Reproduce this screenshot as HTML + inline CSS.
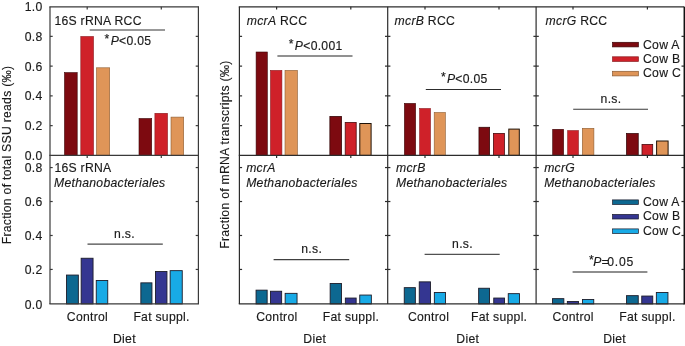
<!DOCTYPE html>
<html><head><meta charset="utf-8"><style>
html,body{margin:0;padding:0;background:#fff;}
body{width:685px;height:346px;overflow:hidden;}
svg{display:block;will-change:transform;}
text{font-family:"Liberation Sans",sans-serif;font-size:12.2px;fill:#1a1a1a;letter-spacing:0.28px;stroke:#1a1a1a;stroke-width:0.15px;}
</style></head><body>
<svg width="685" height="346" viewBox="0 0 685 346">
<rect width="685" height="346" fill="#fff"/>
<rect x="64.50" y="72.60" width="12.70" height="82.80" fill="#7d0a10" stroke="#3a0406" stroke-width="0.6"/>
<rect x="80.80" y="36.50" width="12.70" height="118.90" fill="#cf2129" stroke="#8a1a1e" stroke-width="0.6"/>
<rect x="96.50" y="67.80" width="13.20" height="87.60" fill="#df9558" stroke="#8a5a30" stroke-width="0.6"/>
<rect x="139.00" y="118.50" width="12.70" height="36.90" fill="#7d0a10" stroke="#3a0406" stroke-width="0.6"/>
<rect x="154.90" y="113.30" width="12.60" height="42.10" fill="#cf2129" stroke="#8a1a1e" stroke-width="0.6"/>
<rect x="171.00" y="117.10" width="12.70" height="38.30" fill="#df9558" stroke="#8a5a30" stroke-width="0.6"/>
<rect x="66.45" y="275.05" width="11.90" height="28.85" fill="#0d6891" stroke="#1c1c2a" stroke-width="0.9"/>
<rect x="81.15" y="258.25" width="11.90" height="45.65" fill="#343691" stroke="#1c1c2a" stroke-width="0.9"/>
<rect x="96.25" y="280.45" width="11.50" height="23.45" fill="#18aae6" stroke="#1c1c2a" stroke-width="0.9"/>
<rect x="140.85" y="282.85" width="11.10" height="21.05" fill="#0d6891" stroke="#1c1c2a" stroke-width="0.9"/>
<rect x="155.45" y="271.55" width="11.50" height="32.35" fill="#343691" stroke="#1c1c2a" stroke-width="0.9"/>
<rect x="170.15" y="270.65" width="12.10" height="33.25" fill="#18aae6" stroke="#1c1c2a" stroke-width="0.9"/>
<rect x="256.10" y="52.00" width="11.20" height="103.40" fill="#7d0a10" stroke="#3a0406" stroke-width="0.6"/>
<rect x="270.50" y="70.40" width="11.40" height="85.00" fill="#cf2129" stroke="#8a1a1e" stroke-width="0.6"/>
<rect x="285.00" y="70.40" width="12.40" height="85.00" fill="#df9558" stroke="#8a5a30" stroke-width="0.6"/>
<rect x="329.85" y="116.35" width="11.80" height="39.05" fill="#7d0a10" stroke="#2a0204" stroke-width="0.7"/>
<rect x="345.20" y="122.40" width="11.00" height="33.00" fill="#cf2129" stroke="#4a0c10" stroke-width="0.8"/>
<rect x="359.80" y="123.50" width="11.30" height="31.90" fill="#df9558" stroke="#1e1208" stroke-width="1.0"/>
<rect x="256.05" y="290.15" width="11.10" height="13.75" fill="#0d6891" stroke="#1c1c2a" stroke-width="0.9"/>
<rect x="270.45" y="291.25" width="11.20" height="12.65" fill="#343691" stroke="#1c1c2a" stroke-width="0.9"/>
<rect x="285.15" y="293.35" width="11.90" height="10.55" fill="#18aae6" stroke="#1c1c2a" stroke-width="0.9"/>
<rect x="330.15" y="283.55" width="11.30" height="20.35" fill="#0d6891" stroke="#1c1c2a" stroke-width="0.9"/>
<rect x="345.35" y="298.05" width="10.80" height="5.85" fill="#343691" stroke="#1c1c2a" stroke-width="0.9"/>
<rect x="359.75" y="295.05" width="11.60" height="8.85" fill="#18aae6" stroke="#1c1c2a" stroke-width="0.9"/>
<rect x="404.40" y="103.40" width="11.20" height="52.00" fill="#7d0a10" stroke="#3a0406" stroke-width="0.6"/>
<rect x="419.60" y="108.50" width="10.90" height="46.90" fill="#cf2129" stroke="#8a1a1e" stroke-width="0.6"/>
<rect x="434.20" y="112.50" width="11.10" height="42.90" fill="#df9558" stroke="#8a5a30" stroke-width="0.6"/>
<rect x="478.95" y="127.25" width="10.70" height="28.15" fill="#7d0a10" stroke="#2a0204" stroke-width="0.7"/>
<rect x="493.40" y="133.40" width="11.00" height="22.00" fill="#cf2129" stroke="#4a0c10" stroke-width="0.8"/>
<rect x="508.80" y="129.10" width="10.50" height="26.30" fill="#df9558" stroke="#1e1208" stroke-width="1.0"/>
<rect x="404.25" y="287.65" width="11.10" height="16.25" fill="#0d6891" stroke="#1c1c2a" stroke-width="0.9"/>
<rect x="419.25" y="281.85" width="11.20" height="22.05" fill="#343691" stroke="#1c1c2a" stroke-width="0.9"/>
<rect x="434.35" y="292.45" width="11.10" height="11.45" fill="#18aae6" stroke="#1c1c2a" stroke-width="0.9"/>
<rect x="478.65" y="288.25" width="10.90" height="15.65" fill="#0d6891" stroke="#1c1c2a" stroke-width="0.9"/>
<rect x="493.75" y="298.05" width="10.80" height="5.85" fill="#343691" stroke="#1c1c2a" stroke-width="0.9"/>
<rect x="508.25" y="293.65" width="11.20" height="10.25" fill="#18aae6" stroke="#1c1c2a" stroke-width="0.9"/>
<rect x="552.70" y="129.30" width="10.90" height="26.10" fill="#7d0a10" stroke="#3a0406" stroke-width="0.6"/>
<rect x="567.70" y="130.60" width="10.70" height="24.80" fill="#cf2129" stroke="#8a1a1e" stroke-width="0.6"/>
<rect x="582.30" y="128.30" width="11.60" height="27.10" fill="#df9558" stroke="#8a5a30" stroke-width="0.6"/>
<rect x="626.45" y="133.45" width="11.80" height="21.95" fill="#7d0a10" stroke="#2a0204" stroke-width="0.7"/>
<rect x="642.00" y="144.40" width="10.70" height="11.00" fill="#cf2129" stroke="#4a0c10" stroke-width="0.8"/>
<rect x="656.60" y="141.00" width="11.50" height="14.40" fill="#df9558" stroke="#1e1208" stroke-width="1.0"/>
<rect x="552.55" y="298.65" width="11.30" height="5.25" fill="#0d6891" stroke="#1c1c2a" stroke-width="0.9"/>
<rect x="567.35" y="301.55" width="11.20" height="2.35" fill="#343691" stroke="#1c1c2a" stroke-width="0.9"/>
<rect x="582.55" y="299.45" width="11.20" height="4.45" fill="#18aae6" stroke="#1c1c2a" stroke-width="0.9"/>
<rect x="626.55" y="295.65" width="11.70" height="8.25" fill="#0d6891" stroke="#1c1c2a" stroke-width="0.9"/>
<rect x="641.75" y="296.05" width="11.00" height="7.85" fill="#343691" stroke="#1c1c2a" stroke-width="0.9"/>
<rect x="656.35" y="292.45" width="11.60" height="11.45" fill="#18aae6" stroke="#1c1c2a" stroke-width="0.9"/>
<line x1="49.40" y1="6.80" x2="199.00" y2="6.80" stroke="#3a3a3a" stroke-width="1.2"/>
<line x1="49.40" y1="155.40" x2="199.00" y2="155.40" stroke="#3a3a3a" stroke-width="1.2"/>
<line x1="49.40" y1="303.90" x2="199.00" y2="303.90" stroke="#3a3a3a" stroke-width="1.2"/>
<line x1="50.00" y1="6.80" x2="50.00" y2="303.90" stroke="#3a3a3a" stroke-width="1.2"/>
<line x1="198.40" y1="6.80" x2="198.40" y2="303.90" stroke="#3a3a3a" stroke-width="1.2"/>
<line x1="238.80" y1="6.80" x2="684.20" y2="6.80" stroke="#2c2c2c" stroke-width="1.2"/>
<line x1="238.80" y1="155.40" x2="684.20" y2="155.40" stroke="#2c2c2c" stroke-width="1.2"/>
<line x1="238.80" y1="303.90" x2="684.20" y2="303.90" stroke="#2c2c2c" stroke-width="1.2"/>
<line x1="239.40" y1="6.80" x2="239.40" y2="303.90" stroke="#2c2c2c" stroke-width="1.2"/>
<line x1="387.70" y1="6.80" x2="387.70" y2="303.90" stroke="#2c2c2c" stroke-width="1.2"/>
<line x1="536.10" y1="6.80" x2="536.10" y2="303.90" stroke="#2c2c2c" stroke-width="1.2"/>
<line x1="684.35" y1="6.80" x2="684.35" y2="304.50" stroke="#111" stroke-width="1.6"/>
<line x1="50.00" y1="125.64" x2="52.70" y2="125.64" stroke="#3a3a3a" stroke-width="1.2"/>
<line x1="195.70" y1="125.64" x2="198.40" y2="125.64" stroke="#3a3a3a" stroke-width="1.2"/>
<line x1="50.00" y1="269.44" x2="52.70" y2="269.44" stroke="#3a3a3a" stroke-width="1.2"/>
<line x1="195.70" y1="269.44" x2="198.40" y2="269.44" stroke="#3a3a3a" stroke-width="1.2"/>
<line x1="50.00" y1="95.88" x2="52.70" y2="95.88" stroke="#3a3a3a" stroke-width="1.2"/>
<line x1="195.70" y1="95.88" x2="198.40" y2="95.88" stroke="#3a3a3a" stroke-width="1.2"/>
<line x1="50.00" y1="235.48" x2="52.70" y2="235.48" stroke="#3a3a3a" stroke-width="1.2"/>
<line x1="195.70" y1="235.48" x2="198.40" y2="235.48" stroke="#3a3a3a" stroke-width="1.2"/>
<line x1="50.00" y1="66.12" x2="52.70" y2="66.12" stroke="#3a3a3a" stroke-width="1.2"/>
<line x1="195.70" y1="66.12" x2="198.40" y2="66.12" stroke="#3a3a3a" stroke-width="1.2"/>
<line x1="50.00" y1="201.52" x2="52.70" y2="201.52" stroke="#3a3a3a" stroke-width="1.2"/>
<line x1="195.70" y1="201.52" x2="198.40" y2="201.52" stroke="#3a3a3a" stroke-width="1.2"/>
<line x1="50.00" y1="36.36" x2="52.70" y2="36.36" stroke="#3a3a3a" stroke-width="1.2"/>
<line x1="195.70" y1="36.36" x2="198.40" y2="36.36" stroke="#3a3a3a" stroke-width="1.2"/>
<line x1="50.00" y1="167.56" x2="52.70" y2="167.56" stroke="#3a3a3a" stroke-width="1.2"/>
<line x1="195.70" y1="167.56" x2="198.40" y2="167.56" stroke="#3a3a3a" stroke-width="1.2"/>
<line x1="239.40" y1="125.64" x2="242.10" y2="125.64" stroke="#2c2c2c" stroke-width="1.2"/>
<line x1="385.00" y1="125.64" x2="387.70" y2="125.64" stroke="#2c2c2c" stroke-width="1.2"/>
<line x1="239.40" y1="269.44" x2="242.10" y2="269.44" stroke="#2c2c2c" stroke-width="1.2"/>
<line x1="385.00" y1="269.44" x2="387.70" y2="269.44" stroke="#2c2c2c" stroke-width="1.2"/>
<line x1="239.40" y1="95.88" x2="242.10" y2="95.88" stroke="#2c2c2c" stroke-width="1.2"/>
<line x1="385.00" y1="95.88" x2="387.70" y2="95.88" stroke="#2c2c2c" stroke-width="1.2"/>
<line x1="239.40" y1="235.48" x2="242.10" y2="235.48" stroke="#2c2c2c" stroke-width="1.2"/>
<line x1="385.00" y1="235.48" x2="387.70" y2="235.48" stroke="#2c2c2c" stroke-width="1.2"/>
<line x1="239.40" y1="66.12" x2="242.10" y2="66.12" stroke="#2c2c2c" stroke-width="1.2"/>
<line x1="385.00" y1="66.12" x2="387.70" y2="66.12" stroke="#2c2c2c" stroke-width="1.2"/>
<line x1="239.40" y1="201.52" x2="242.10" y2="201.52" stroke="#2c2c2c" stroke-width="1.2"/>
<line x1="385.00" y1="201.52" x2="387.70" y2="201.52" stroke="#2c2c2c" stroke-width="1.2"/>
<line x1="239.40" y1="36.36" x2="242.10" y2="36.36" stroke="#2c2c2c" stroke-width="1.2"/>
<line x1="385.00" y1="36.36" x2="387.70" y2="36.36" stroke="#2c2c2c" stroke-width="1.2"/>
<line x1="239.40" y1="167.56" x2="242.10" y2="167.56" stroke="#2c2c2c" stroke-width="1.2"/>
<line x1="385.00" y1="167.56" x2="387.70" y2="167.56" stroke="#2c2c2c" stroke-width="1.2"/>
<line x1="387.70" y1="125.64" x2="390.40" y2="125.64" stroke="#2c2c2c" stroke-width="1.2"/>
<line x1="533.40" y1="125.64" x2="536.10" y2="125.64" stroke="#2c2c2c" stroke-width="1.2"/>
<line x1="387.70" y1="269.44" x2="390.40" y2="269.44" stroke="#2c2c2c" stroke-width="1.2"/>
<line x1="533.40" y1="269.44" x2="536.10" y2="269.44" stroke="#2c2c2c" stroke-width="1.2"/>
<line x1="387.70" y1="95.88" x2="390.40" y2="95.88" stroke="#2c2c2c" stroke-width="1.2"/>
<line x1="533.40" y1="95.88" x2="536.10" y2="95.88" stroke="#2c2c2c" stroke-width="1.2"/>
<line x1="387.70" y1="235.48" x2="390.40" y2="235.48" stroke="#2c2c2c" stroke-width="1.2"/>
<line x1="533.40" y1="235.48" x2="536.10" y2="235.48" stroke="#2c2c2c" stroke-width="1.2"/>
<line x1="387.70" y1="66.12" x2="390.40" y2="66.12" stroke="#2c2c2c" stroke-width="1.2"/>
<line x1="533.40" y1="66.12" x2="536.10" y2="66.12" stroke="#2c2c2c" stroke-width="1.2"/>
<line x1="387.70" y1="201.52" x2="390.40" y2="201.52" stroke="#2c2c2c" stroke-width="1.2"/>
<line x1="533.40" y1="201.52" x2="536.10" y2="201.52" stroke="#2c2c2c" stroke-width="1.2"/>
<line x1="387.70" y1="36.36" x2="390.40" y2="36.36" stroke="#2c2c2c" stroke-width="1.2"/>
<line x1="533.40" y1="36.36" x2="536.10" y2="36.36" stroke="#2c2c2c" stroke-width="1.2"/>
<line x1="387.70" y1="167.56" x2="390.40" y2="167.56" stroke="#2c2c2c" stroke-width="1.2"/>
<line x1="533.40" y1="167.56" x2="536.10" y2="167.56" stroke="#2c2c2c" stroke-width="1.2"/>
<line x1="536.10" y1="125.64" x2="538.80" y2="125.64" stroke="#2c2c2c" stroke-width="1.2"/>
<line x1="681.50" y1="125.64" x2="684.20" y2="125.64" stroke="#2c2c2c" stroke-width="1.2"/>
<line x1="536.10" y1="269.44" x2="538.80" y2="269.44" stroke="#2c2c2c" stroke-width="1.2"/>
<line x1="681.50" y1="269.44" x2="684.20" y2="269.44" stroke="#2c2c2c" stroke-width="1.2"/>
<line x1="536.10" y1="95.88" x2="538.80" y2="95.88" stroke="#2c2c2c" stroke-width="1.2"/>
<line x1="681.50" y1="95.88" x2="684.20" y2="95.88" stroke="#2c2c2c" stroke-width="1.2"/>
<line x1="536.10" y1="235.48" x2="538.80" y2="235.48" stroke="#2c2c2c" stroke-width="1.2"/>
<line x1="681.50" y1="235.48" x2="684.20" y2="235.48" stroke="#2c2c2c" stroke-width="1.2"/>
<line x1="536.10" y1="66.12" x2="538.80" y2="66.12" stroke="#2c2c2c" stroke-width="1.2"/>
<line x1="681.50" y1="66.12" x2="684.20" y2="66.12" stroke="#2c2c2c" stroke-width="1.2"/>
<line x1="536.10" y1="201.52" x2="538.80" y2="201.52" stroke="#2c2c2c" stroke-width="1.2"/>
<line x1="681.50" y1="201.52" x2="684.20" y2="201.52" stroke="#2c2c2c" stroke-width="1.2"/>
<line x1="536.10" y1="36.36" x2="538.80" y2="36.36" stroke="#2c2c2c" stroke-width="1.2"/>
<line x1="681.50" y1="36.36" x2="684.20" y2="36.36" stroke="#2c2c2c" stroke-width="1.2"/>
<line x1="536.10" y1="167.56" x2="538.80" y2="167.56" stroke="#2c2c2c" stroke-width="1.2"/>
<line x1="681.50" y1="167.56" x2="684.20" y2="167.56" stroke="#2c2c2c" stroke-width="1.2"/>
<line x1="87.20" y1="6.80" x2="87.20" y2="9.50" stroke="#3a3a3a" stroke-width="1.2"/>
<line x1="87.20" y1="155.40" x2="87.20" y2="158.10" stroke="#3a3a3a" stroke-width="1.2"/>
<line x1="161.30" y1="6.80" x2="161.30" y2="9.50" stroke="#3a3a3a" stroke-width="1.2"/>
<line x1="161.30" y1="155.40" x2="161.30" y2="158.10" stroke="#3a3a3a" stroke-width="1.2"/>
<line x1="276.60" y1="6.80" x2="276.60" y2="9.50" stroke="#2c2c2c" stroke-width="1.2"/>
<line x1="276.60" y1="155.40" x2="276.60" y2="158.10" stroke="#2c2c2c" stroke-width="1.2"/>
<line x1="350.80" y1="6.80" x2="350.80" y2="9.50" stroke="#2c2c2c" stroke-width="1.2"/>
<line x1="350.80" y1="155.40" x2="350.80" y2="158.10" stroke="#2c2c2c" stroke-width="1.2"/>
<line x1="425.00" y1="6.80" x2="425.00" y2="9.50" stroke="#2c2c2c" stroke-width="1.2"/>
<line x1="425.00" y1="155.40" x2="425.00" y2="158.10" stroke="#2c2c2c" stroke-width="1.2"/>
<line x1="499.00" y1="6.80" x2="499.00" y2="9.50" stroke="#2c2c2c" stroke-width="1.2"/>
<line x1="499.00" y1="155.40" x2="499.00" y2="158.10" stroke="#2c2c2c" stroke-width="1.2"/>
<line x1="573.00" y1="6.80" x2="573.00" y2="9.50" stroke="#2c2c2c" stroke-width="1.2"/>
<line x1="573.00" y1="155.40" x2="573.00" y2="158.10" stroke="#2c2c2c" stroke-width="1.2"/>
<line x1="647.40" y1="6.80" x2="647.40" y2="9.50" stroke="#2c2c2c" stroke-width="1.2"/>
<line x1="647.40" y1="155.40" x2="647.40" y2="158.10" stroke="#2c2c2c" stroke-width="1.2"/>
<line x1="89.7" y1="29.9" x2="165.0" y2="29.9" stroke="#777" stroke-width="1.5"/>
<line x1="277.4" y1="56.0" x2="352.5" y2="56.0" stroke="#6c6c6c" stroke-width="1.5"/>
<line x1="425.8" y1="89.5" x2="501.0" y2="89.5" stroke="#2c2c2c" stroke-width="1.0"/>
<line x1="573.2" y1="109.3" x2="648.0" y2="109.3" stroke="#383838" stroke-width="1.1"/>
<line x1="87.5" y1="244.2" x2="162.8" y2="244.2" stroke="#484848" stroke-width="1.25"/>
<line x1="273.6" y1="259.7" x2="349.2" y2="259.7" stroke="#404040" stroke-width="1.2"/>
<line x1="424.6" y1="254.3" x2="499.7" y2="254.3" stroke="#262626" stroke-width="1.0"/>
<line x1="572.6" y1="272.0" x2="647.4" y2="272.0" stroke="#686868" stroke-width="1.5"/>
<rect x="612.6" y="42.30" width="25.8" height="4.6" fill="#7d0a10" stroke="#3a0406" stroke-width="0.7"/>
<rect x="612.6" y="56.80" width="25.8" height="4.6" fill="#cf2129" stroke="#8a1a1e" stroke-width="0.7"/>
<rect x="612.6" y="71.30" width="25.8" height="4.6" fill="#df9558" stroke="#8a5a30" stroke-width="0.7"/>
<rect x="612.6" y="199.90" width="25.8" height="4.6" fill="#0d6891" stroke="#1c1c2a" stroke-width="0.7"/>
<rect x="612.6" y="214.40" width="25.8" height="4.6" fill="#343691" stroke="#1c1c2a" stroke-width="0.7"/>
<rect x="612.6" y="228.90" width="25.8" height="4.6" fill="#18aae6" stroke="#1c1c2a" stroke-width="0.7"/>
<text x="42.6" y="11.41" text-anchor="end">1.0</text>
<text x="42.6" y="41.06" text-anchor="end">0.8</text>
<text x="42.6" y="70.71" text-anchor="end">0.6</text>
<text x="42.6" y="100.36" text-anchor="end">0.4</text>
<text x="42.6" y="130.01" text-anchor="end">0.2</text>
<text x="42.6" y="159.66" text-anchor="end">0.0</text>
<text x="42.6" y="171.64" text-anchor="end">0.8</text>
<text x="42.6" y="205.92" text-anchor="end">0.6</text>
<text x="42.6" y="240.20" text-anchor="end">0.4</text>
<text x="42.6" y="274.48" text-anchor="end">0.2</text>
<text x="42.6" y="308.76" text-anchor="end">0.0</text>
<text x="54.4" y="24.9" text-anchor="start">16S rRNA RCC</text>
<text x="246.8" y="25.0" text-anchor="start"><tspan font-style="italic">mcrA</tspan> RCC</text>
<text x="394.6" y="24.8" text-anchor="start"><tspan font-style="italic">mcrB</tspan> RCC</text>
<text x="545.6" y="24.8" text-anchor="start"><tspan font-style="italic">mcrG</tspan> RCC</text>
<text x="54.4" y="171.9" text-anchor="start">16S rRNA</text>
<text x="54.0" y="187.1" text-anchor="start" font-style="italic">Methanobacteriales</text>
<text x="246.2" y="171.7" text-anchor="start" font-style="italic">mcrA</text>
<text x="246.2" y="187.0" text-anchor="start" font-style="italic">Methanobacteriales</text>
<text x="396.0" y="171.7" text-anchor="start" font-style="italic">mcrB</text>
<text x="396.0" y="187.0" text-anchor="start" font-style="italic">Methanobacteriales</text>
<text x="544.2" y="171.7" text-anchor="start" font-style="italic">mcrG</text>
<text x="544.2" y="187.0" text-anchor="start" font-style="italic">Methanobacteriales</text>
<text x="104.6" y="45.2" text-anchor="start"><tspan dy="-2">*</tspan><tspan dy="2" dx="1" font-style="italic">P</tspan>&lt;0.05</text>
<text x="288.8" y="50.1" text-anchor="start" letter-spacing="0.1"><tspan dy="-2">*</tspan><tspan dy="2" dx="1" font-style="italic">P</tspan>&lt;0.001</text>
<text x="440.9" y="82.7" text-anchor="start"><tspan dy="-2">*</tspan><tspan dy="2" dx="1" font-style="italic">P</tspan>&lt;0.05</text>
<text x="611.0" y="102.8" text-anchor="middle">n.s.</text>
<text x="124.5" y="237.8" text-anchor="middle">n.s.</text>
<text x="311.7" y="252.9" text-anchor="middle">n.s.</text>
<text x="462.5" y="248.4" text-anchor="middle">n.s.</text>
<text y="266.2"><tspan x="589.0" dy="-2">*</tspan><tspan x="593.2" dy="2" font-style="italic">P</tspan><tspan x="601.6">=</tspan><tspan x="607.2" letter-spacing="0.8">0.05</tspan></text>
<text x="87.44" y="321.3" text-anchor="middle">Control</text>
<text x="161.54" y="321.3" text-anchor="middle">Fat suppl.</text>
<text x="124.44" y="343.0" text-anchor="middle">Diet</text>
<text x="276.84" y="321.3" text-anchor="middle">Control</text>
<text x="350.94" y="321.3" text-anchor="middle">Fat suppl.</text>
<text x="314.74" y="343.0" text-anchor="middle">Diet</text>
<text x="428.53999999999996" y="321.3" text-anchor="middle">Control</text>
<text x="499.14" y="321.3" text-anchor="middle">Fat suppl.</text>
<text x="467.74" y="343.0" text-anchor="middle">Diet</text>
<text x="573.24" y="321.3" text-anchor="middle">Control</text>
<text x="647.4399999999999" y="321.3" text-anchor="middle">Fat suppl.</text>
<text x="614.54" y="343.0" text-anchor="middle">Diet</text>
<text x="643.0" y="48.60" text-anchor="start">Cow A</text>
<text x="643.0" y="62.80" text-anchor="start">Cow B</text>
<text x="643.0" y="77.00" text-anchor="start">Cow C</text>
<text x="643.0" y="206.20" text-anchor="start">Cow A</text>
<text x="643.0" y="220.40" text-anchor="start">Cow B</text>
<text x="643.0" y="234.60" text-anchor="start">Cow C</text>
<text transform="translate(10.6,155.0) rotate(-90)" text-anchor="middle">Fraction of total SSU reads (‰)</text>
<text transform="translate(228.9,154.6) rotate(-90)" text-anchor="middle">Fraction of mRNA transcripts (‰)</text>
</svg>
</body></html>
